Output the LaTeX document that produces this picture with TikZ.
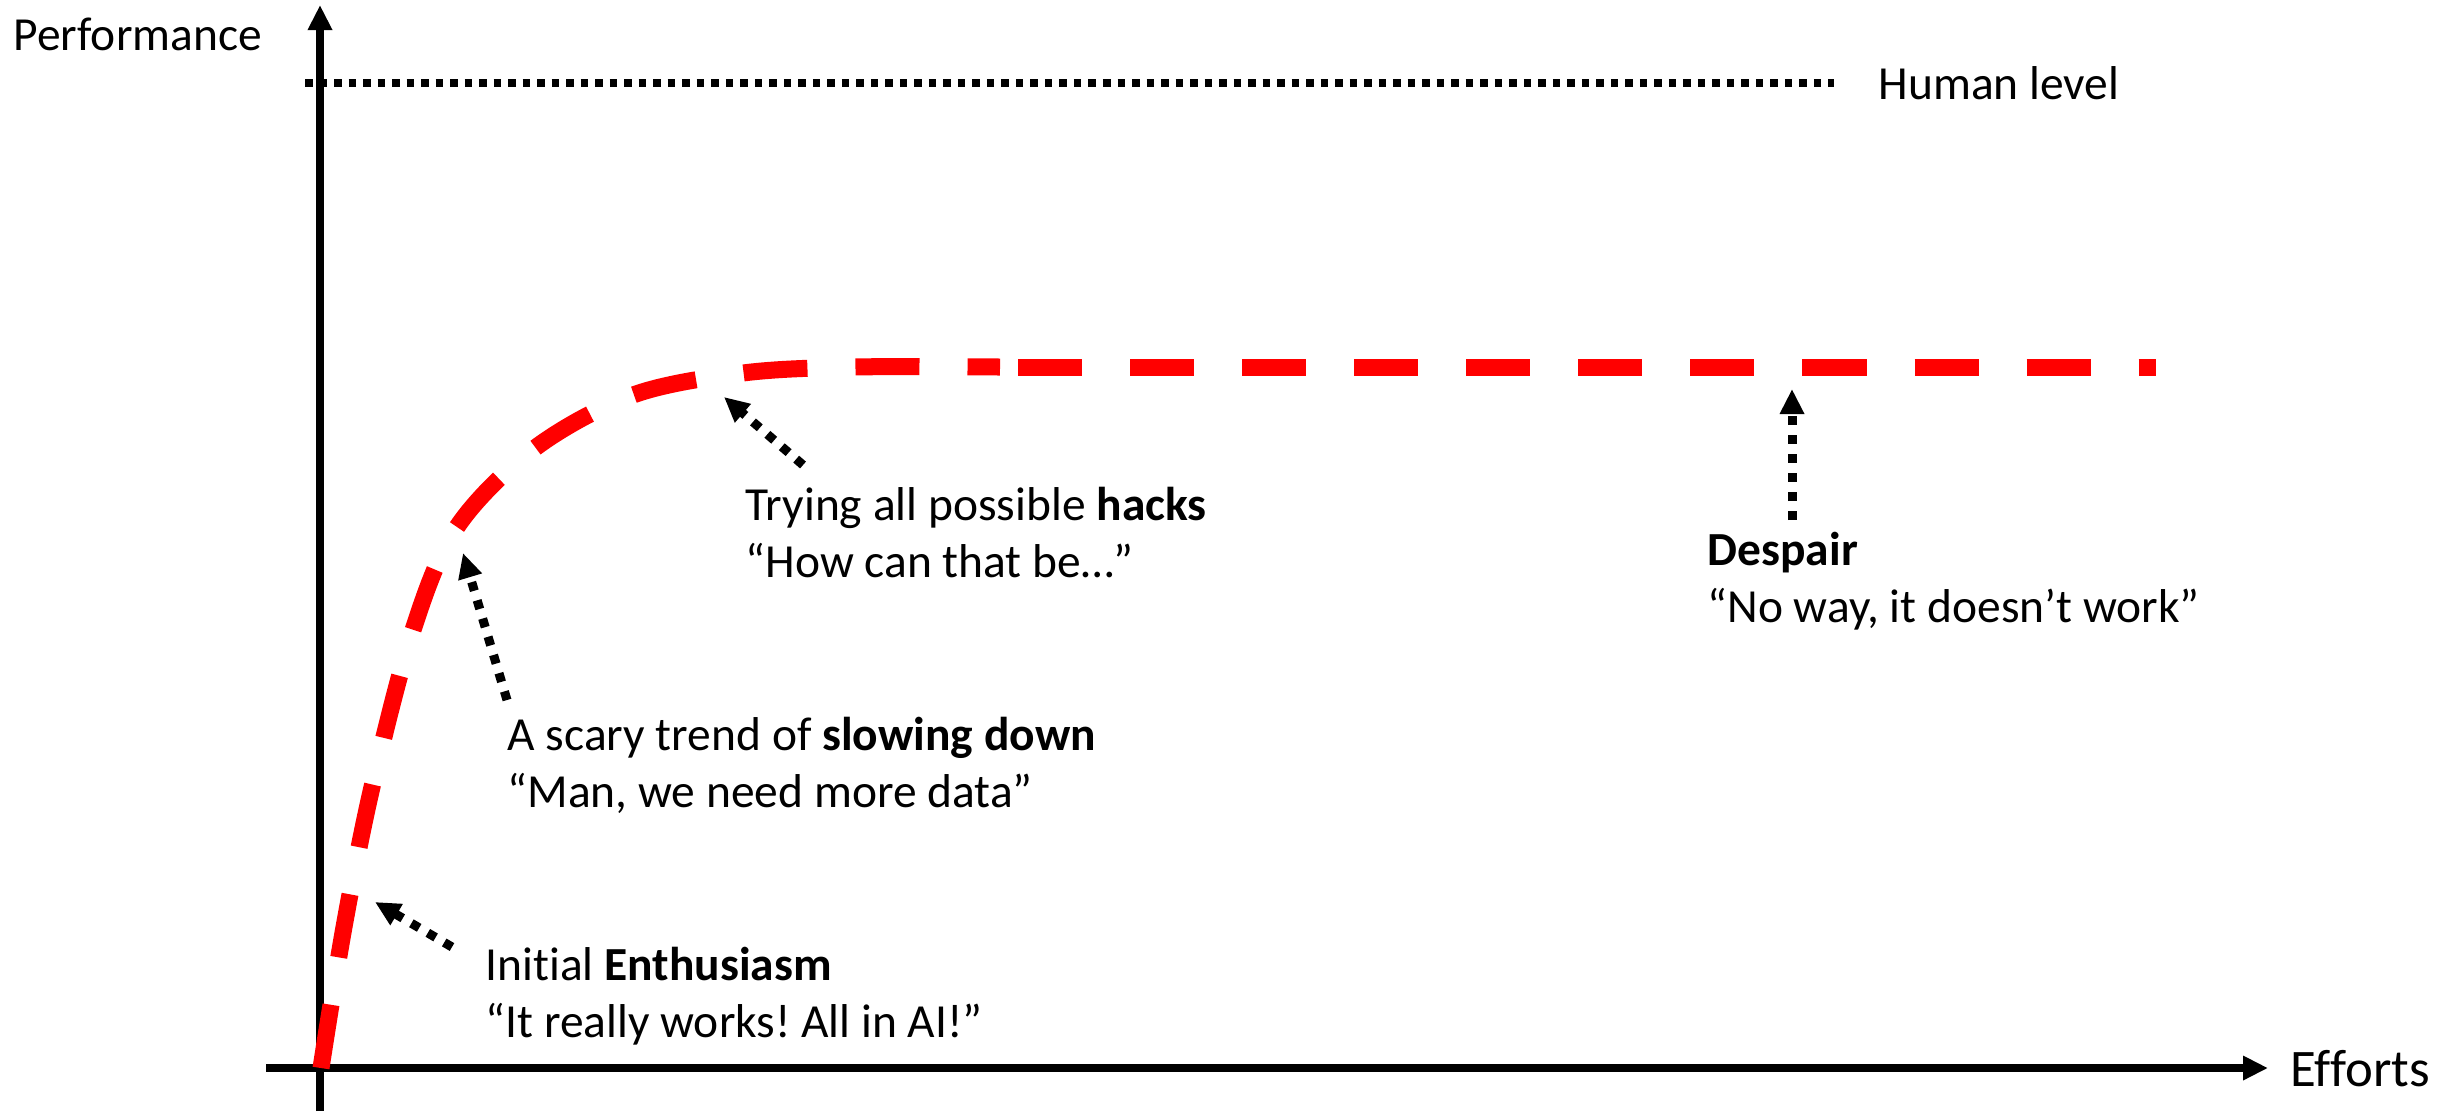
\documentclass[tikz,border=0pt]{standalone}
\usepackage{fontspec}
\setmainfont{Carlito}[Ligatures=NoCommon]
\frenchspacing
\usetikzlibrary{arrows.meta, positioning}

\begin{document}
\begin{tikzpicture}[
    x=0.01cm, y=-0.01cm,
    >={Triangle[length=0.25cm, width=0.23cm]},
    % --- axes and reference line ---
    axis/.style={->, line width=0.08cm},
    humanline/.style={line width=0.08cm, dash pattern=on 0.075cm off 0.07cm},
    % --- performance curve ---
    trend/.style={red, line width=0.17cm, dash pattern=on 0.64cm off 0.48cm},
    % --- annotations ---
    note/.style={->, line width=0.09cm, dash pattern=on 0.09cm off 0.1cm},
    lbl/.style={font=\fontsize{13.5pt}{16.2pt}\selectfont, inner sep=0pt,
        align=left, anchor=base west},
]
\useasboundingbox (0,0) rectangle (2458,1111);

% ---- Axes ----
\coordinate (ybot) at (320,1111);
\coordinate (ytop) at (320,5);
\coordinate (xleft) at (266,1068);
\coordinate (xright) at (2268,1068);
\draw[axis] (ybot) -- (ytop);
\draw[axis] (xleft) -- (xright);
\node[lbl] (perf) at (13,50) {Performance};
\node[lbl, font=\fontsize{15pt}{18pt}\selectfont] (effort) at (2290,1086) {Efforts};

% ---- Human level ----
\coordinate (hstart) at (305,83);
\coordinate (hend) at (1834,83);
\draw[humanline] (hstart) -- (hend);
\node[lbl] (human) at (1878,99) {Human level};

% ---- Curve: fast rise, then plateau ----
\draw[trend] plot[smooth, tension=0.55] coordinates {(321,1068) (344,927)
    (372,787) (413,630) (457,527) (535,448) (633,395) (743,373) (854,367) (1000,367)};
\coordinate (flatA) at (1018,367);
\coordinate (flatB) at (2156,367);
\draw[trend] (flatA) -- (flatB);

% ---- Stage labels (anchored on the last line) ----
\node[lbl] (enth) at (485,1037) {Initial \textbf{Enthusiasm}\\“It really works! All in AI!”};
\node[lbl] (slow) at (507,807) {A scary trend of \textbf{slowing down}\\“Man, we need more data”};
\node[lbl] (hack) at (745,577) {Trying all possible \textbf{hacks}\\“How can that be…”};
\node[lbl] (desp) at (1707,622) {\textbf{Despair}\\“No way, it doesn’t work”};

% ---- Pointers to the curve ----
\coordinate (enthTail) at (452,947);
\coordinate (enthTip) at (375,902);
\coordinate (slowTail) at (507,700);
\coordinate (slowTip) at (463,553);
\coordinate (hackTail) at (803,465);
\coordinate (hackTip) at (724,397);
\coordinate (despTail) at (1792,520);
\coordinate (despTip) at (1792,389);
\draw[note] (enthTail) -- (enthTip);
\draw[note] (slowTail) -- (slowTip);
\draw[note] (hackTail) -- (hackTip);
\draw[note] (despTail) -- (despTip);

\end{tikzpicture}
\end{document}
